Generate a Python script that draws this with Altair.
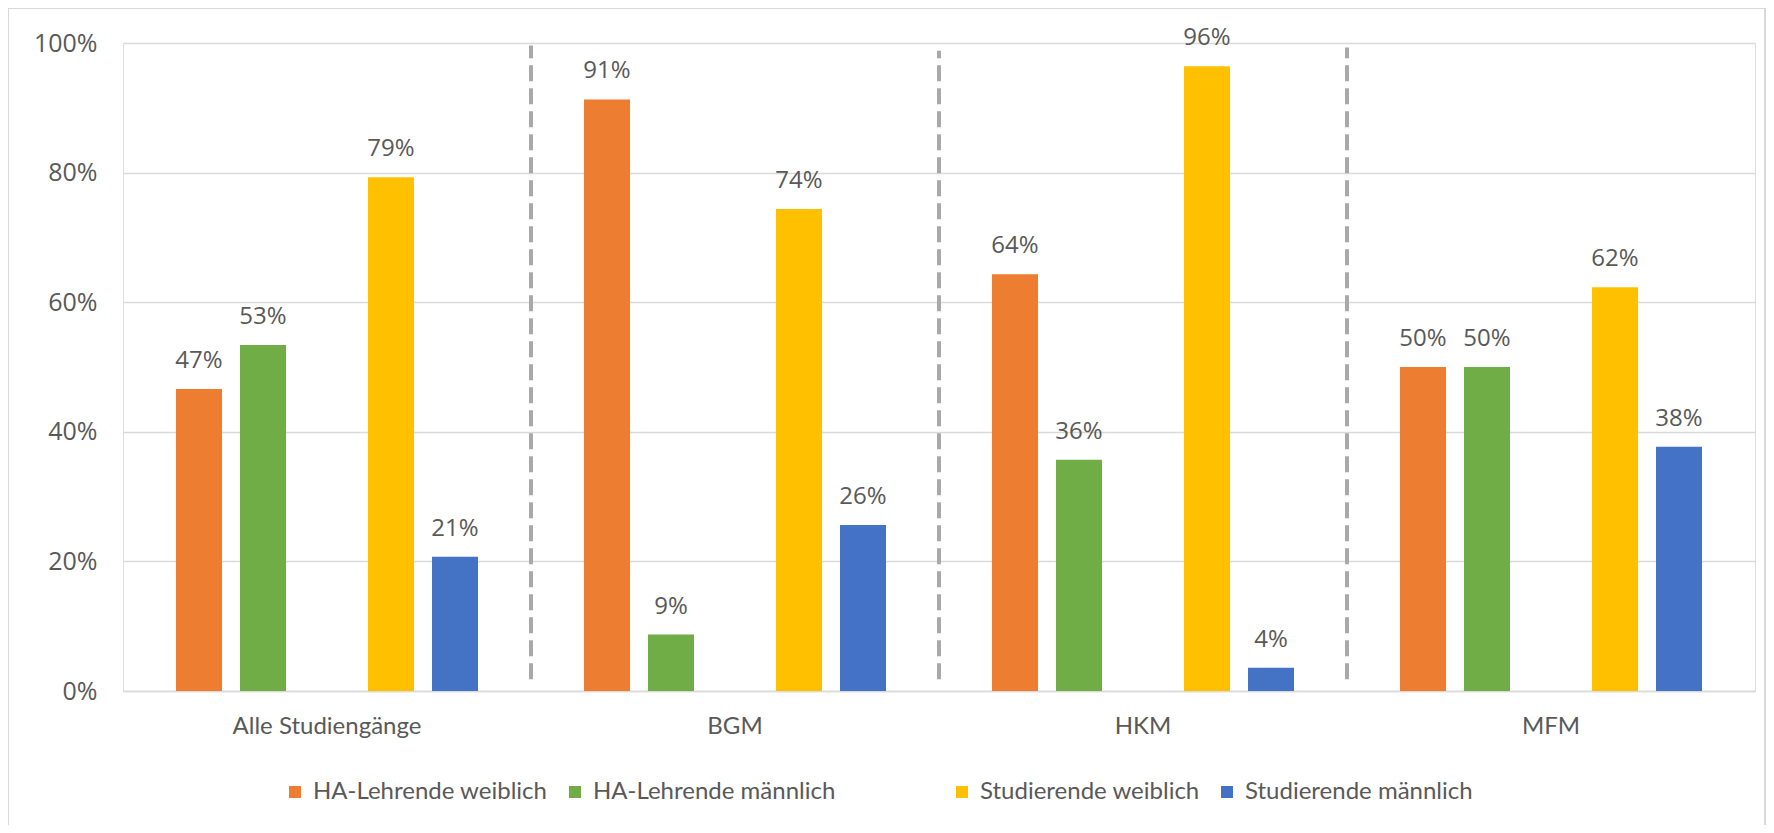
import altair as alt
import pandas as pd

# ---- data -------------------------------------------------------------
groups = ["Alle Studiengänge", "BGM", "HKM", "MFM"]
series = ["HA-Lehrende weiblich", "HA-Lehrende männlich",
          "Studierende weiblich", "Studierende männlich"]
blank = "\u2800" * 3           # empty (unnamed) series that leaves a gap
slots = [series[0], series[1], blank, series[2], series[3]]
colors = ["#ED7D31", "#70AD47", "transparent", "#FFC000", "#4472C4"]

ha_weiblich = [0.466, 0.913, 0.643, 0.500]
ha_maennlich = [0.534, 0.087, 0.357, 0.500]
st_weiblich = [0.793, 0.744, 0.964, 0.623]
st_maennlich = [0.207, 0.256, 0.036, 0.377]

sep_groups = ["BGM", "HKM", "MFM"]
sep_low = [0.018, 0.018, 0.018]
sep_high = [0.996, 0.988, 0.993]

# ---- tables -----------------------------------------------------------
rows = []
for s, vals in zip(series, [ha_weiblich, ha_maennlich, st_weiblich, st_maennlich]):
    for g, v in zip(groups, vals):
        rows.append({"group": g, "series": s, "value": v})
df = pd.DataFrame(rows)
sep_df = pd.DataFrame({"group": sep_groups, "lo": sep_low, "hi": sep_high})
frame_df = pd.DataFrame({"k": [0]})

W, H = 1632, 648
PAD = {"left": 115, "top": 35, "right": 11, "bottom": 134}

TXT = "#595959"
NUMFONT = "Open Sans"
TXTFONT = "Lato"

x_enc = alt.X("group:N", sort=groups,
              scale=alt.Scale(domain=groups, paddingInner=0, paddingOuter=0),
              axis=alt.Axis(title=None, labelAngle=0, ticks=False, domain=True,
                            domainColor="#D9D9D9", domainWidth=1.5, grid=False,
                            labelFont=TXTFONT, labelFontSize=24, labelColor=TXT,
                            labelPadding=23, labelLimit=500))
xoff_enc = alt.XOffset("series:N",
                       scale=alt.Scale(domain=slots, paddingInner=0.281, paddingOuter=0.828))
y_enc = alt.Y("value:Q",
              scale=alt.Scale(domain=[0, 1], nice=False),
              axis=alt.Axis(title=None, format="%", values=[0, 0.2, 0.4, 0.6, 0.8, 1.0],
                            grid=True, gridColor="#D9D9D9", gridWidth=1.5,
                            domain=False, ticks=False,
                            labelFont=NUMFONT, labelFontSize=25, labelColor=TXT,
                            labelPadding=26))
color_enc = alt.Color("series:N",
                      scale=alt.Scale(domain=slots, range=colors),
                      sort=slots,
                      legend=alt.Legend(title=None, orient="none", direction="horizontal",
                                        legendX=160, legendY=737, padding=0,
                                        symbolType="square", symbolSize=144,
                                        symbolStrokeWidth=0, labelOffset=6,
                                        columnPadding=15,
                                        labelFont=TXTFONT, labelFontSize=24,
                                        labelColor=TXT, labelLimit=600))

bars = alt.Chart(df).mark_bar().encode(
    x=x_enc, xOffset=xoff_enc, y=y_enc, color=color_enc
)

labels = alt.Chart(df).mark_text(
    font=NUMFONT, fontSize=24, color=TXT, baseline="alphabetic", dy=-21
).encode(
    x=alt.X("group:N", sort=groups),
    xOffset=alt.XOffset("series:N"),
    y="value:Q",
    text=alt.Text("value:Q", format=".0%"),
)

seps = alt.Chart(sep_df).mark_rule(
    color="#A9A9A9", strokeWidth=4, strokeDash=[16, 7]
).encode(
    x=alt.X("group:N", sort=groups, bandPosition=0),
    y=alt.Y("lo:Q"),
    y2="hi:Q",
)

frame = alt.Chart(frame_df).mark_rect(
    fill=None, fillOpacity=0, stroke="#D9D9D9", strokeWidth=2
).encode(
    x=alt.value(-115), x2=alt.value(W + 10),
    y=alt.value(-35), y2=alt.value(H + 200),
)

chart = alt.layer(frame, bars, seps, labels).properties(
    width=W, height=H, padding=PAD, autosize=alt.AutoSizeParams(type="none")
).configure_view(stroke=None).configure(background="white")

chart.save("out.html", embed_options={"renderer": "svg", "actions": False})
